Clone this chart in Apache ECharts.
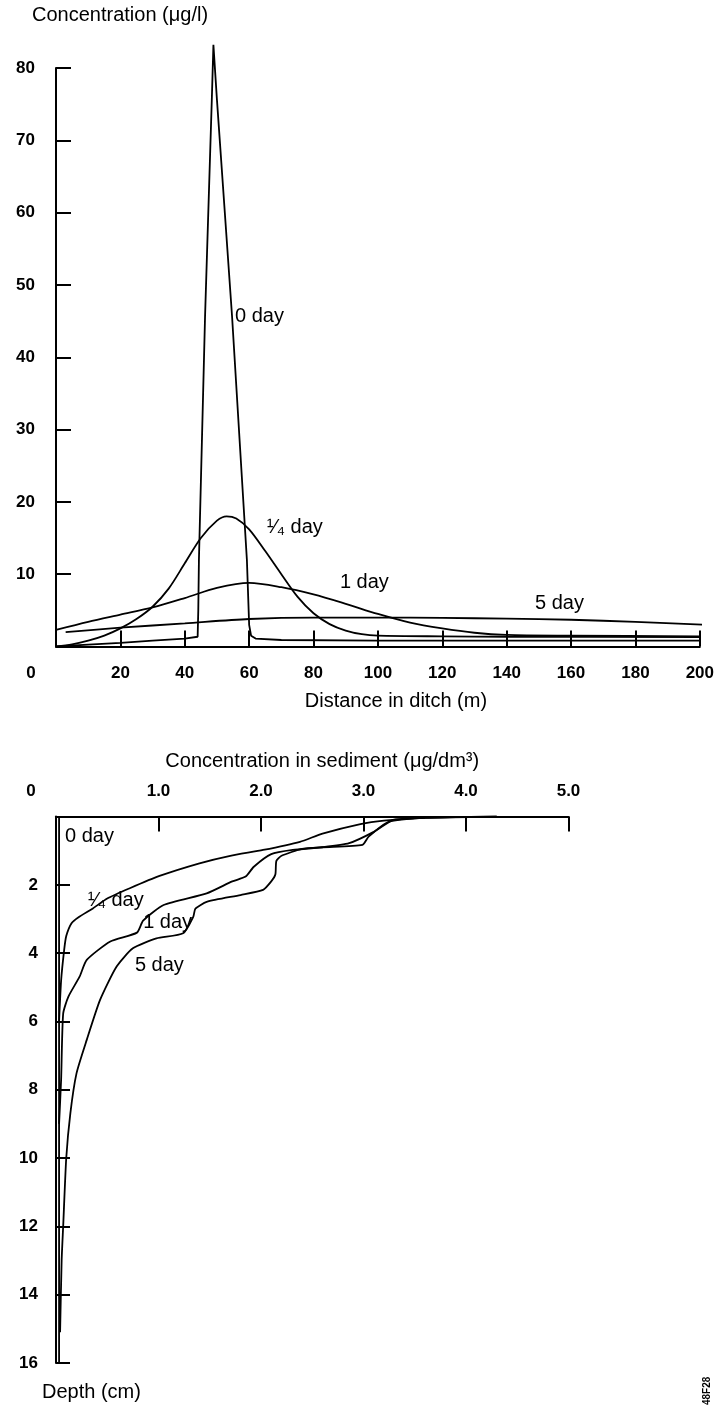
<!DOCTYPE html>
<html>
<head>
<meta charset="utf-8">
<style>
  html, body { margin: 0; padding: 0; background: #fff; }
  #chart { width: 717px; height: 1406px; }
</style>
<script src="https://cdn.jsdelivr.net/npm/echarts@6/dist/echarts.min.js"></script>
</head>
<body>
<div id="chart"></div>
<script>
// upper panel: concentration in ditch water (ug/l) vs distance (m)
var distTicks = [0, 20, 40, 60, 80, 100, 120, 140, 160, 180, 200]
var waterTicks = [0, 10, 20, 30, 40, 50, 60, 70, 80]

var water0Day = [[0, 0], [10, 0.25], [20, 0.5], [30, 0.8], [40, 1.1], [44, 1.35], [44.2, 5], [44.4, 12],
  [46.3, 45.6], [48.4, 75.6], [48.9, 83.2], [50, 75.6], [54.7, 45.6], [59.3, 12], [60, 3], [60.6, 1.5],
  [62, 1.1], [70, 0.9], [100, 0.8], [200, 0.8]]
var waterQuarterDay = [[0, 0], [5, 0.3], [10, 0.8], [15, 1.5], [20, 2.5], [25, 3.8], [30, 5.5], [35, 8],
  [40, 11.5], [45, 15], [50, 17.4], [53, 18], [56, 17.7], [60, 16.2], [65, 13.2], [70, 10], [75, 6.9],
  [80, 4.6], [85, 3.1], [90, 2.2], [95, 1.7], [100, 1.5], [120, 1.4], [140, 1.35], [200, 1.3]]
var water1Day = [[0, 2.3], [10, 3.4], [20, 4.4], [30, 5.4], [40, 6.7], [50, 8.1], [60, 8.8], [70, 8.2],
  [80, 7.2], [90, 5.9], [100, 4.5], [110, 3.3], [120, 2.5], [130, 1.9], [140, 1.6], [160, 1.5], [200, 1.4]]
var water5Day = [[3, 2.0], [20, 2.6], [40, 3.2], [60, 3.8], [80, 4.0], [100, 4.0], [120, 3.95], [140, 3.85],
  [160, 3.7], [180, 3.4], [202, 3.0]]
var waterLabels = [[55.6, 45.6, '0 day'], [65.5, 16.5, '¹⁄₄ day'], [88.2, 8.8, '1 day'], [148.8, 6.0, '5 day']]

// lower panel: concentration in sediment (ug/dm3) vs depth (cm)
var sedTicks = [0, 1, 2, 3, 4, 5]
var depthTicks = [0, 2, 4, 6, 8, 10, 12, 14, 16]

var sed0Day = [[0.03, 0], [0.03, 16]]
var sedQuarterDay = [[4.3, 0], [3.6, 0.04], [3.2, 0.12], [2.97, 0.22], [2.6, 0.5], [2.38, 0.74], [2.02, 0.98],
  [1.7, 1.15], [1.4, 1.37], [1.01, 1.74], [0.72, 2.1], [0.5, 2.4], [0.36, 2.69], [0.22, 2.95], [0.15, 3.13],
  [0.1, 3.5], [0.08, 3.9], [0.05, 4.8], [0.03, 6]]
var sed1Day = [[3.9, 0.02], [3.5, 0.05], [3.29, 0.1], [3.1, 0.45], [2.86, 0.78], [2.6, 0.9], [2.31, 0.98],
  [2.1, 1.1], [1.93, 1.47], [1.85, 1.76], [1.72, 1.9], [1.47, 2.25], [1.05, 2.59], [0.85, 3.05], [0.79, 3.4],
  [0.53, 3.66], [0.3, 4.2], [0.23, 4.69], [0.12, 5.28], [0.07, 5.77], [0.05, 7.7], [0.03, 9]]
var sed5Day = [[3.6, 0.03], [3.25, 0.15], [3.05, 0.59], [2.99, 0.83], [2.6, 0.9], [2.4, 0.95], [2.2, 1.15],
  [2.15, 1.3], [2.14, 1.7], [2.1, 1.9], [2.02, 2.15], [1.8, 2.3], [1.47, 2.5], [1.36, 2.7], [1.34, 2.93],
  [1.24, 3.42], [0.98, 3.57], [0.75, 3.86], [0.59, 4.4], [0.43, 5.37], [0.3, 6.54], [0.2, 7.52], [0.14, 8.69],
  [0.1, 10], [0.07, 12], [0.055, 13], [0.04, 15.1]]
var sedLabels = [[0.088, 0.59, '0 day'], [0.31, 2.47, '¹⁄₄ day'], [0.85, 3.09, '1 day'], [0.77, 4.35, '5 day']]

var FONT = '"Liberation Sans", Arial, Helvetica, sans-serif'
var INK = '#000'

function tickLabel(margin, fmt) {
  return {
    margin: margin,
    color: INK,
    fontFamily: FONT,
    fontSize: 17,
    fontWeight: 'bold',
    formatter: function(v) {
      // the zero sits left of the axis corner in the original
      return v === 0 ? '{z|0}' : fmt(v)
    },
    rich: {
      z: { padding: [0, 50, 0, 0], color: INK, fontFamily: FONT, fontSize: 17, fontWeight: 'bold' }
    }
  }
}

function curve(data, x, y, smooth) {
  return {
    type: 'line',
    xAxisIndex: x,
    yAxisIndex: y,
    data: data,
    showSymbol: false,
    smooth: smooth,
    clip: false,
    silent: true,
    lineStyle: { color: INK, width: 1.8 }
  }
}

function labels(data, x, y) {
  return {
    type: 'scatter',
    xAxisIndex: x,
    yAxisIndex: y,
    data: data,
    symbolSize: 0,
    clip: false,
    silent: true,
    itemStyle: { opacity: 1, color: INK },
    label: {
      show: true,
      position: 'right',
      distance: 0,
      color: INK,
      opacity: 1,
      fontFamily: FONT,
      fontSize: 20,
      formatter: function(p) { return p.data[2] }
    }
  }
}

var axisLine = { show: true, lineStyle: { color: INK, width: 2 } }

var chart = echarts.init(document.getElementById('chart'), null, { renderer: 'canvas' })

chart.setOption({
  backgroundColor: '#fff',
  animation: false,
  grid: [
    { left: 56, top: 68, width: 644, height: 578.5 },
    { left: 56, top: 816.5, width: 512.5, height: 546.5 }
  ],
  xAxis: [
    {
      gridIndex: 0,
      type: 'value',
      min: distTicks[0],
      max: distTicks[distTicks.length - 1],
      interval: distTicks[1] - distTicks[0],
      axisLine: axisLine,
      axisTick: { show: true, inside: true, length: 16, lineStyle: { color: INK, width: 2 } },
      splitLine: { show: false },
      axisLabel: tickLabel(18, function(v) { return String(v) }),
      name: 'Distance in ditch (m)',
      nameLocation: 'middle',
      nameGap: 45,
      nameTextStyle: { color: INK, fontFamily: FONT, fontSize: 20, padding: [0, 0, 0, 36] }
    },
    {
      gridIndex: 1,
      type: 'value',
      position: 'top',
      min: sedTicks[0],
      max: sedTicks[sedTicks.length - 1],
      interval: sedTicks[1] - sedTicks[0],
      axisLine: axisLine,
      axisTick: { show: true, inside: true, length: 15, lineStyle: { color: INK, width: 2 } },
      splitLine: { show: false },
      axisLabel: tickLabel(17, function(v) { return v.toFixed(1) }),
      name: 'Concentration in sediment (μg/dm³)',
      nameLocation: 'middle',
      nameGap: 45,
      nameTextStyle: { color: INK, fontFamily: FONT, fontSize: 20, padding: [0, 0, 0, 20] }
    }
  ],
  yAxis: [
    {
      gridIndex: 0,
      type: 'value',
      min: waterTicks[0],
      max: waterTicks[waterTicks.length - 1],
      interval: waterTicks[1] - waterTicks[0],
      axisLine: axisLine,
      axisTick: { show: true, inside: true, length: 15, lineStyle: { color: INK, width: 2 } },
      splitLine: { show: false },
      axisLabel: Object.assign(tickLabel(21, function(v) { return String(v) }), { showMinLabel: false })
    },
    {
      gridIndex: 1,
      type: 'value',
      inverse: true,
      min: depthTicks[0],
      max: depthTicks[depthTicks.length - 1],
      interval: depthTicks[1] - depthTicks[0],
      axisLine: axisLine,
      axisTick: { show: true, inside: true, length: 14, lineStyle: { color: INK, width: 2 } },
      splitLine: { show: false },
      axisLabel: Object.assign(tickLabel(18, function(v) { return String(v) }), { showMinLabel: false })
    }
  ],
  graphic: [
    {
      type: 'text', left: 32, top: 5,
      style: { text: 'Concentration (μg/l)', fill: INK, font: '20px ' + FONT }
    },
    {
      type: 'text', left: 42, top: 1382,
      style: { text: 'Depth (cm)', fill: INK, font: '20px ' + FONT }
    },
    {
      type: 'text', x: 702, y: 1405, rotation: Math.PI / 2,
      style: { text: '48F28', fill: INK, font: 'bold 10px ' + FONT, textVerticalAlign: 'top' }
    }
  ],
  series: [
    curve(water0Day, 0, 0, false),
    curve(waterQuarterDay, 0, 0, 0.3),
    curve(water1Day, 0, 0, 0.3),
    curve(water5Day, 0, 0, 0.3),
    labels(waterLabels, 0, 0),
    curve(sed0Day, 1, 1, false),
    curve(sedQuarterDay, 1, 1, 0.2),
    curve(sed1Day, 1, 1, 0.2),
    curve(sed5Day, 1, 1, 0.2),
    labels(sedLabels, 1, 1)
  ]
})
</script>
</body>
</html>
